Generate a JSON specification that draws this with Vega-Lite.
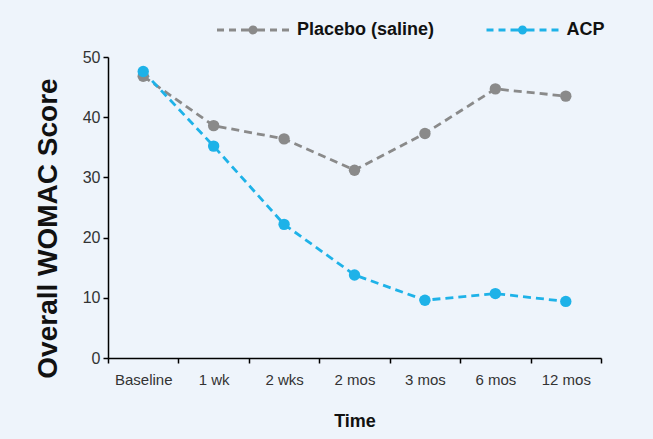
{
  "$schema": "https://vega.github.io/schema/vega-lite/v6.json",
  "autosize": {"type": "none"},
  "width": 493,
  "height": 301,
  "padding": {"left": 108, "top": 57, "right": 52, "bottom": 81},
  "background": "#EEF4FB",
  "config": {"view": {"stroke": null}, "font": "Liberation Sans"},
  "data": {
    "values": [
      {"time": "Baseline", "group": "Placebo (saline)", "score": 46.8},
      {"time": "1 wk", "group": "Placebo (saline)", "score": 38.6},
      {"time": "2 wks", "group": "Placebo (saline)", "score": 36.4},
      {"time": "2 mos", "group": "Placebo (saline)", "score": 31.2},
      {"time": "3 mos", "group": "Placebo (saline)", "score": 37.3},
      {"time": "6 mos", "group": "Placebo (saline)", "score": 44.7},
      {"time": "12 mos", "group": "Placebo (saline)", "score": 43.5},
      {"time": "Baseline", "group": "ACP", "score": 47.6},
      {"time": "1 wk", "group": "ACP", "score": 35.2},
      {"time": "2 wks", "group": "ACP", "score": 22.2},
      {"time": "2 mos", "group": "ACP", "score": 13.8},
      {"time": "3 mos", "group": "ACP", "score": 9.6},
      {"time": "6 mos", "group": "ACP", "score": 10.7},
      {"time": "12 mos", "group": "ACP", "score": 9.4}
    ]
  },
  "encoding": {
    "x": {
      "field": "time",
      "type": "ordinal",
      "sort": ["Baseline", "1 wk", "2 wks", "2 mos", "3 mos", "6 mos", "12 mos"],
      "scale": {"type": "band", "paddingInner": 0, "paddingOuter": 0},
      "axis": {
        "title": "Time",
        "tickBand": "extent",
        "tickSize": 5,
        "labelAngle": 0,
        "domainColor": "#000",
        "tickColor": "#000",
        "domainWidth": 1.5,
        "tickWidth": 1.5,
        "labelFontSize": 15,
        "labelColor": "#333",
        "labelPadding": 9,
        "titleFontSize": 18,
        "titleFontWeight": "bold",
        "titleColor": "#111",
        "titleX": 246.5,
        "titleY": 68,
        "titleBaseline": "alphabetic"
      }
    },
    "y": {
      "field": "score",
      "type": "quantitative",
      "scale": {"domain": [0, 50], "nice": false},
      "axis": {
        "title": "Overall WOMAC Score",
        "values": [0, 10, 20, 30, 40, 50],
        "grid": false,
        "tickSize": 5,
        "labelPadding": 3,
        "labelFontSize": 16,
        "labelColor": "#333",
        "domainColor": "#000",
        "tickColor": "#000",
        "domainWidth": 1.5,
        "tickWidth": 1.5,
        "titleFontSize": 28,
        "titleFontWeight": "bold",
        "titleColor": "#111",
        "titleX": -52,
        "titleY": 171,
        "titleBaseline": "alphabetic"
      }
    }
  },
  "layer": [
    {
      "mark": {"type": "line", "strokeDash": [8, 5], "strokeWidth": 2.8},
      "encoding": {
        "stroke": {
          "field": "group",
          "type": "nominal",
          "scale": {"domain": ["Placebo (saline)", "ACP"], "range": ["#8A8A8A", "#1EB2E8"]},
          "legend": null
        }
      }
    },
    {
      "mark": {"type": "point", "filled": true, "size": 130, "opacity": 1},
      "encoding": {
        "color": {
          "field": "group",
          "type": "nominal",
          "scale": {"domain": ["Placebo (saline)", "ACP"], "range": ["#8A8A8A", "#1EB2E8"]},
          "legend": {
            "orient": "none",
            "legendX": 104.5,
            "legendY": -36,
            "direction": "horizontal",
            "title": null,
            "symbolType": "M-7.2,-0.28H-5.8V0.28H-7.2Z M-4.8,-0.28H-3.4V0.28H-4.8Z M-2.4,-0.28H2.4V0.28H-2.4Z M3.4,-0.28H4.8V0.28H3.4Z M5.8,-0.28H7.2V0.28H5.8Z M-0.9,0A0.9,0.9,0,1,1,0.9,0A0.9,0.9,0,1,1,-0.9,0Z",
            "symbolSize": 100,
            "symbolStrokeWidth": 0,
            "symbolOpacity": 1,
            "symbolOffset": 31.5,
            "labelOffset": 35,
            "labelFontSize": 18,
            "labelFontWeight": "bold",
            "labelColor": "#111",
            "columnPadding": 47.5
          }
        }
      }
    }
  ],
  "resolve": {"scale": {"color": "independent", "stroke": "independent"}}
}
